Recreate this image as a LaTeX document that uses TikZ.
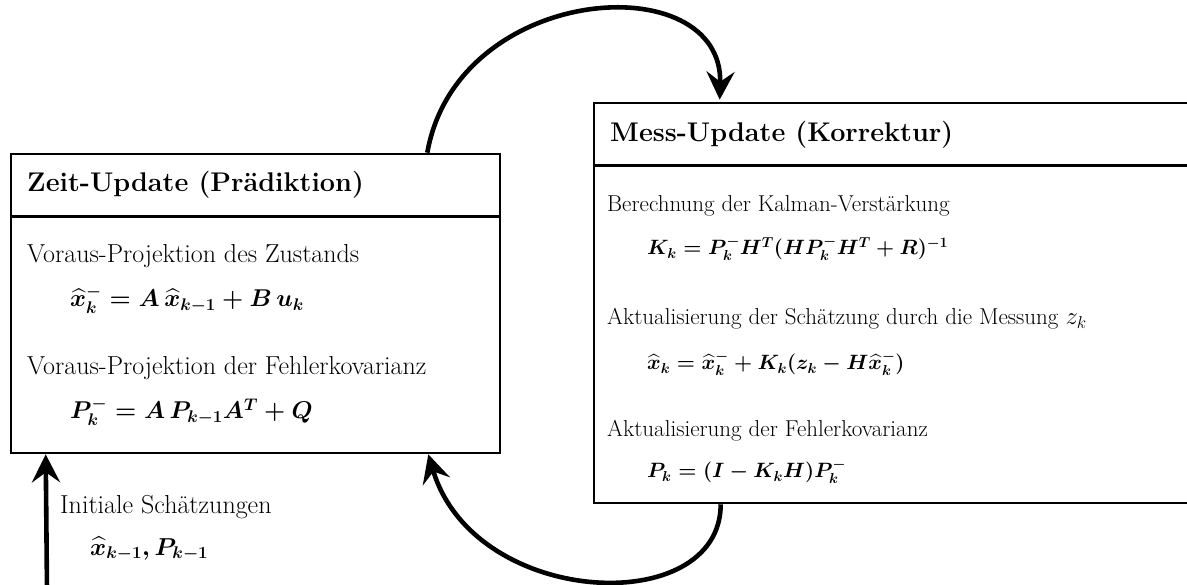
\documentclass[tikz,border=0pt]{standalone}
\usepackage{amsmath}
\usepackage{graphicx}
\usepackage{fontspec}
\usetikzlibrary{arrows.meta,calc}
\newcommand{\frmbox}[2]{\scalebox{#1}{\fontsize{20.74}{25}\selectfont\boldmath$#2$}}
\begin{document}
\begin{tikzpicture}[x=1pt,y=-1pt,
  box/.style={draw, line width=2.6pt, inner sep=0pt},
  conn/.style={line width=4.6pt, -{Stealth[length=28pt,width=28pt,inset=10pt]}},
  txt/.style={anchor=base west, inner sep=0pt, font=\fontsize{#1}{30}\selectfont},
  ttl/.style={anchor=base west, inner sep=0pt, font=\bfseries\fontsize{27}{32}\selectfont},
  frm/.style={anchor=base west, inner sep=0pt}]
\useasboundingbox (0,0) rectangle (1187,585);
% boxes
\node[box, minimum width=489pt, minimum height=299pt] (zeit) at (255.5,303.5) {};
\node[box, minimum width=606pt, minimum height=400pt] (mess) at (897,303) {};
\draw[line width=2.6pt] ($(zeit.north west)+(0,64)$) -- ($(zeit.north east)+(0,64)$);
\draw[line width=2.6pt] ($(mess.north west)+(0,64)$) -- ($(mess.north east)+(0,64)$);
% left texts
\node[ttl] (t1) at (27,192) {Zeit-Update (Prädiktion)};
\node[txt=26] (l1) at (27,263) {Voraus-Projektion des Zustands};
\node[frm] (f1) at (70,307) {\frmbox{1.17}{\widehat{x}_k^- = A\,\widehat{x}_{k-1} + B\,u_k}};
\node[txt=26] (l2) at (27,375) {Voraus-Projektion der Fehlerkovarianz};
\node[frm] (f2) at (70,419) {\frmbox{1.17}{P_k^- = A\,P_{k-1}A^T + Q}};
% right texts
\node[ttl] (t2) at (610,142) {Mess-Update (Korrektur)};
\node[txt=23] (r1) at (607,212) {Berechnung der Kalman-Verstärkung};
\node[frm] (f3) at (647,255) {\frmbox{1.0}{K_k = P_k^-H^T(HP_k^-H^T + R)^{-1}}};
\node[txt=23] (r2) at (607,325) {Aktualisierung der Schätzung durch die Messung $z_k$};
\node[frm] (f4) at (647,370) {\frmbox{1.0}{\widehat{x}_k = \widehat{x}_k^- + K_k(z_k - H\widehat{x}_k^-)}};
\node[txt=23] (r3) at (607,437) {Aktualisierung der Fehlerkovarianz};
\node[frm] (f5) at (647,478) {\frmbox{1.0}{P_k = (I - K_kH)P_k^-}};
% initial
\node[txt=26] (i1) at (60,513) {Initiale Schätzungen};
\node[frm] (i2) at (90,555) {\frmbox{1.18}{\widehat{x}_{k-1}, P_{k-1}}};
% connectors
\coordinate (zs) at ($(zeit.north east)+(-74,0)$);
\coordinate (me) at ($(mess.north west)+(127,-2)$);
\draw[conn] (zs) .. controls ($(zs)+(30,-170)$) and ($(me)+(4,-135)$) .. (me);
\coordinate (ms) at ($(mess.south west)+(128,0)$);
\coordinate (ze) at ($(zeit.south east)+(-73,0)$);
\draw[conn] (ms) .. controls ($(ms)+(0,115)$) and ($(ze)+(46,154)$) .. (ze);
\coordinate (init) at (47,590);
\draw[conn] (init) -- ($(zeit.south west)+(36,0)$);
\end{tikzpicture}
\end{document}
